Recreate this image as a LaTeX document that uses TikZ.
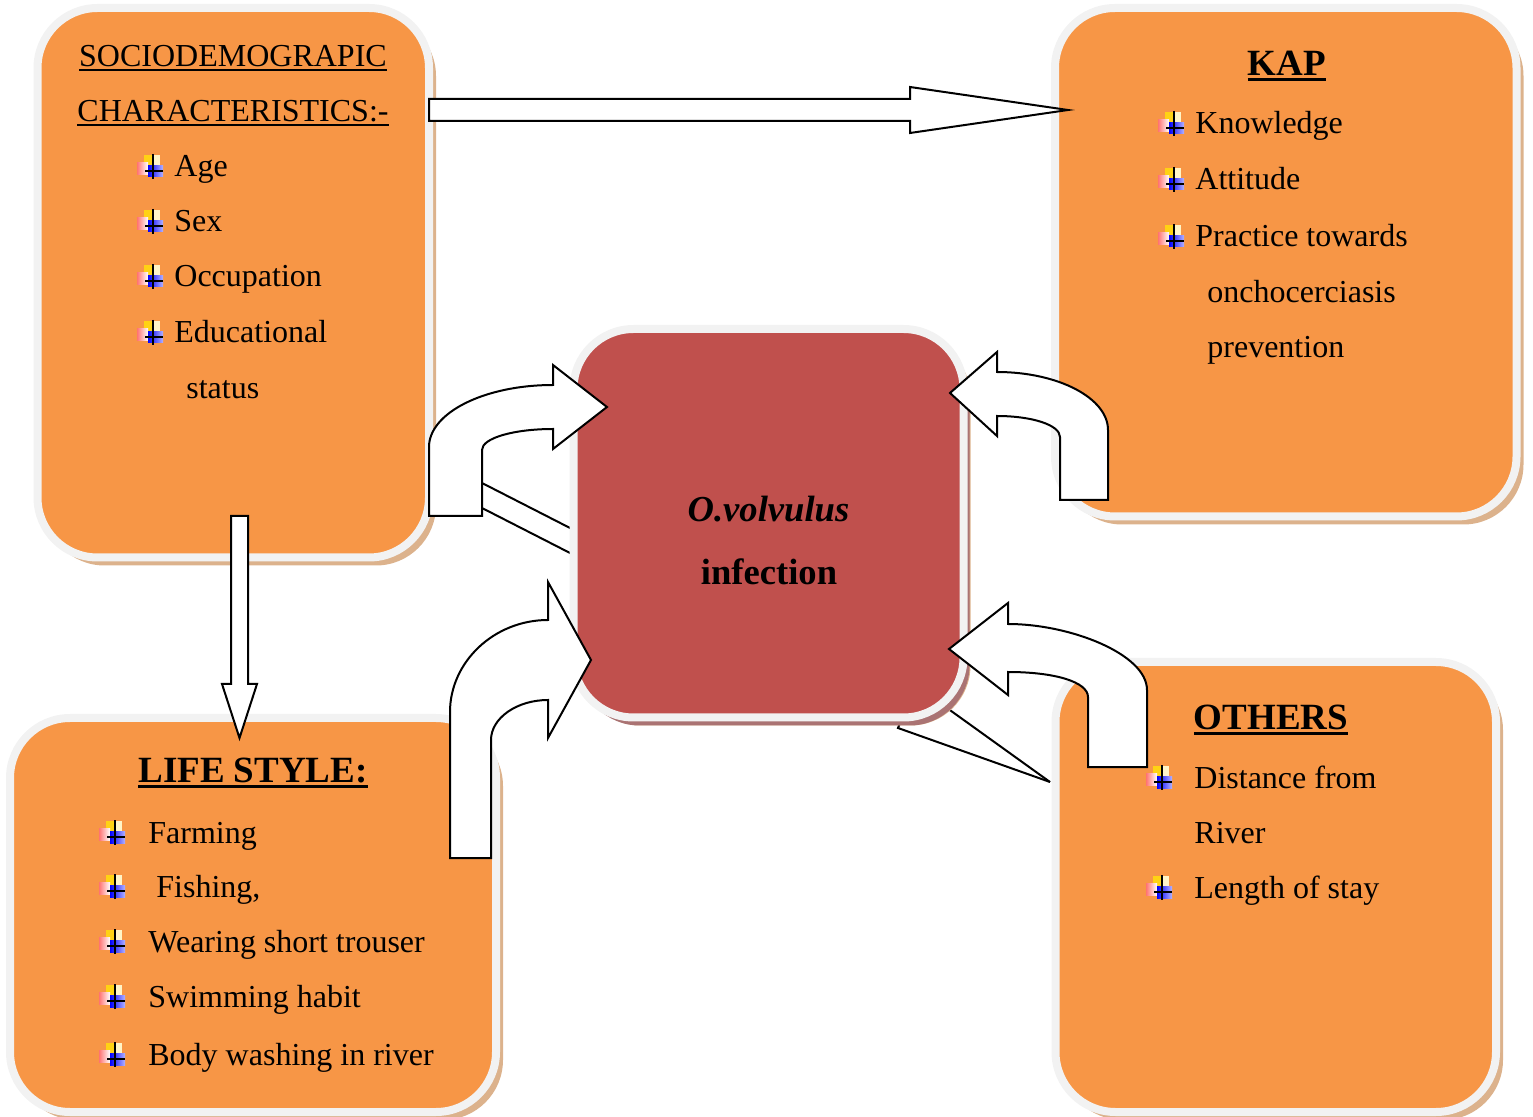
\documentclass[tikz,border=0pt]{standalone}
\usepackage{fontspec}
\setmainfont{Liberation Serif}
\usetikzlibrary{shadows}

\definecolor{boxorange}{RGB}{247,150,70}
\definecolor{boxred}{RGB}{192,80,77}
\definecolor{rimgray}{RGB}{242,242,242}
\definecolor{shadebrown}{RGB}{220,178,140}
\definecolor{shadered}{RGB}{170,115,115}
\definecolor{bulgold}{RGB}{255,210,20}
\definecolor{bulpale}{RGB}{255,245,200}

\newcommand{\bodyfont}{\fontsize{16}{19}\selectfont}
\newcommand{\headfont}{\fontsize{18.5}{22}\selectfont\bfseries}
\newcommand{\thickul}[1]{\setbox0\hbox{#1}\rlap{\rule[-2.6pt]{\wd0}{1.5pt}}\box0}
\newcommand{\thinul}[1]{\setbox0\hbox{#1}\rlap{\rule[-2pt]{\wd0}{0.9pt}}\box0}

\tikzset{
  factorbox/.style={rectangle, rounded corners=30pt, draw=rimgray, line width=4pt,
    fill=boxorange, inner sep=0pt, outer sep=0pt,
    drop shadow={shadow xshift=3.5pt, shadow yshift=-4pt, fill=shadebrown, opacity=1}},
  infectbox/.style={factorbox, fill=boxred,
    drop shadow={shadow xshift=3pt, shadow yshift=-4pt, fill=shadered, opacity=1}},
  item/.style={anchor=base west, inner sep=0pt, font=\bodyfont},
  heading/.style={anchor=base, inner sep=0pt, font=\headfont},
  blockarrow/.style={draw=black, fill=white, line width=1pt, line join=miter},
  wedge/.style={draw=black, line width=1pt},
  plusbul/.pic={
    \fill[bulgold] (-9.3,-15.7) rectangle (-0.6,-5.7);
    \fill[bulpale] (-0.6,-15.7) rectangle (7.4,-5.7);
    \shade[left color=red!55, right color=white] (-16,-8.4) rectangle (-5,3.6);
    \shade[left color=blue, right color=blue!30] (-5,-5.7) rectangle (10,6);
    \draw[line width=0.8pt] (0,-17) -- (0,7.6);
    \draw[line width=1pt] (-8,0) -- (10,0);
  }
}

\begin{document}
\begin{tikzpicture}[x=0.5pt,y=-0.5pt]
\useasboundingbox (0,0) rectangle (1533,1117);

% the four factor boxes
\node[factorbox, minimum width=195.75pt, minimum height=274.75pt] (socio) at (233.25,282.75) {};
\node[factorbox, minimum width=230.75pt, minimum height=254.25pt] (kap) at (1285.75,262.25) {};
\node[factorbox, minimum width=243pt, minimum height=197pt] (life) at (253,915) {};
\node[factorbox, minimum width=220.25pt, minimum height=225pt] (others) at (1275.75,887) {};

% callout wedges
\draw[wedge] (482,483) -- (572,529);
\draw[wedge] (482,508) -- (572,554);
\draw[wedge] (947,708) -- (1050,782);
\draw[wedge] (902,718) -- (898,728) -- (1050,782);

% central outcome
\node[infectbox, minimum width=195pt, minimum height=194.25pt] (ov) at (768.5,523.25) {};

% straight block arrows
\draw[blockarrow] (429,99) -- (910,99) -- (910,87) -- (1068,110) -- (910,133) -- (910,121) -- (429,121) -- cycle;
\draw[blockarrow] (231,516) -- (248,516) -- (248,684) -- (257,684) -- (239.5,738) -- (222,684) -- (231,684) -- cycle;

% bent arrows into the centre
\draw[blockarrow] (429,516) -- (429,447) .. controls (429,413) and (484,385) .. (553,385)
  -- (553,365) -- (607,407) -- (553,449) -- (553,429)
  .. controls (514,429) and (482,438) .. (482,450) -- (482,516) -- cycle;
\draw[blockarrow] (1108,500) -- (1108,430) .. controls (1108,398) and (1058,372) .. (997,372)
  -- (997,352) -- (950,393) -- (997,436) -- (997,416)
  .. controls (1032,416) and (1060,425) .. (1060,437) -- (1060,500) -- cycle;
\draw[blockarrow] (450,858) -- (450,712) .. controls (450,662) and (494,620) .. (548,620)
  -- (548,582) -- (591,660) -- (548,738) -- (548,700)
  .. controls (517,700) and (491,718) .. (491,740) -- (491,858) -- cycle;
\draw[blockarrow] (1147,767) -- (1147,690) .. controls (1147,654) and (1070,624) .. (1008,624)
  -- (1008,603) -- (949,649) -- (1008,695) -- (1008,672)
  .. controls (1055,672) and (1088,682) .. (1088,697) -- (1088,767) -- cycle;

% sociodemographic
\node[anchor=base, inner sep=0pt, font=\bodyfont] (sochead) at (233,67) {\thinul{SOCIODEMOGRAPIC}};
\node[anchor=base, inner sep=0pt, font=\bodyfont] (sochead2) at (233,122) {\thinul{CHARACTERISTICS:-}};
\foreach \y/\t in {177/Age, 232/Sex, 287/Occupation, 343/Educational}{
  \pic at (153,\y-6) {plusbul};
  \node[item] at (174,\y) {\t};
}
\node[item] (status) at (186,399) {status};

% KAP
\node[heading] (kaphead) at (1287,76) {\thickul{KAP}};
\foreach \y/\t in {134/Knowledge, 190/Attitude, 247/Practice towards}{
  \pic at (1174,\y-6) {plusbul};
  \node[item] at (1195,\y) {\t};
}
\node[item] (oncho) at (1207,303) {onchocerciasis};
\node[item] (prev) at (1207,358) {prevention};

% centre text
\node[heading, font=\fontsize{18.3}{22}\selectfont\bfseries\itshape] (ovname) at (768.5,522) {O.volvulus};
\node[heading, font=\fontsize{18.3}{22}\selectfont\bfseries] (ovinf) at (769,585) {infection};

% life style
\node[heading] (lifehead) at (253,783) {\thickul{LIFE STYLE:}};
\foreach \y/\t in {843/Farming, 897/{\ Fishing,}, 952/Wearing short trouser, 1007/Swimming habit, 1065/Body washing in river}{
  \pic at (115,\y-6) {plusbul};
  \node[item] at (148,\y) {\t};
}

% others
\node[heading] (othhead) at (1271,730) {\thickul{OTHERS}};
\pic at (1162,782) {plusbul};
\node[item] (dist) at (1194,788) {Distance from};
\node[item] (river) at (1194,843) {River};
\pic at (1162,892) {plusbul};
\node[item] (stay) at (1194,898) {Length of stay};
\end{tikzpicture}
\end{document}
